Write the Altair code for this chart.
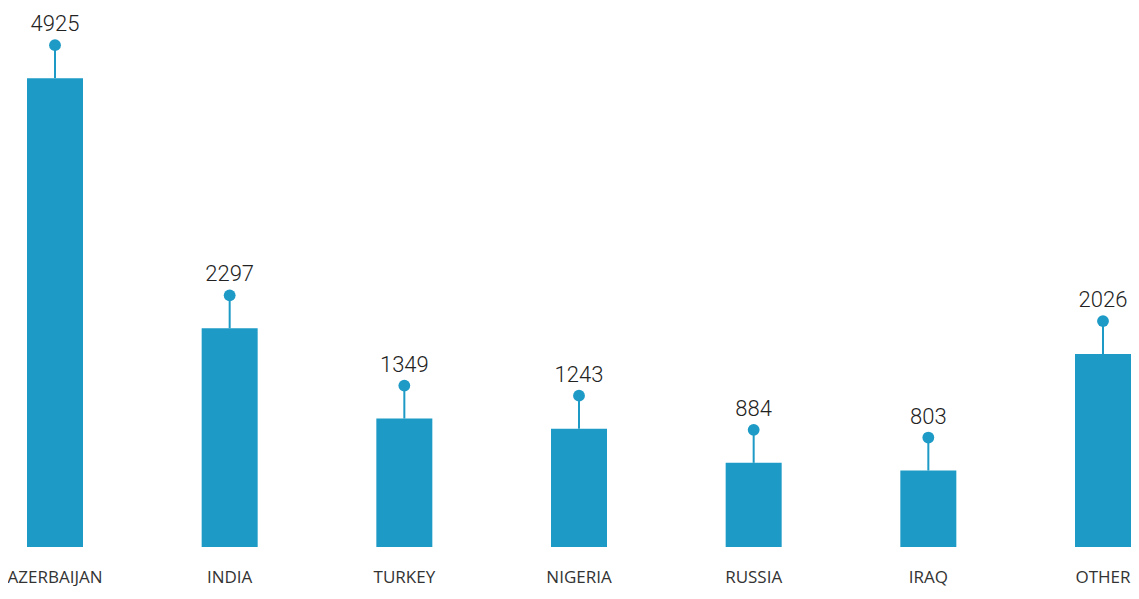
import altair as alt
import pandas as pd

countries = ["AZERBAIJAN", "INDIA", "TURKEY", "NIGERIA", "RUSSIA", "IRAQ", "OTHER"]
values = [4925, 2297, 1349, 1243, 884, 803, 2026]

df = pd.DataFrame({"country": countries, "value": values})

COLOR = "#1d9bc6"
STEM = 33

x = alt.X("country:N", sort=countries, title=None,
          scale=alt.Scale(paddingInner=0.6794, paddingOuter=0, align=0),
          axis=alt.Axis(domain=False, ticks=False, tickSize=0, grid=False,
                        labelAngle=0, labelFont="Open Sans", labelFontSize=17,
                        labelColor="#333333", labelPadding=35,
                        labelBaseline="alphabetic",
                        labelOverlap=False, labelBound=False, labelFlush=False))
y = alt.Y("value:Q", title=None, scale=alt.Scale(domain=[0, 5000], nice=False),
          axis=None)

base = alt.Chart(df)

bars = base.mark_bar(color=COLOR).encode(x=x, y=y)

stems = base.mark_rule(color=COLOR, strokeWidth=2, y2Offset=-STEM).encode(
    x=x, y=y, y2="value:Q")

dots = base.mark_point(filled=True, shape="circle", size=140, opacity=1,
                       color=COLOR, yOffset=-STEM).encode(x=x, y=y)

labels = base.mark_text(font="Roboto", fontSize=22, fontWeight=300,
                        color="#222222", baseline="alphabetic",
                        dy=-(STEM + 14)).encode(x=x, y=y, text="value:Q")

chart = alt.layer(bars, stems, dots, labels).properties(
    width=1104, height=476,
    padding={"left": 19, "top": 63, "right": 0, "bottom": 39},
    autosize=alt.AutoSizeParams(type="none"),
    background="white",
).configure_view(stroke=None)

chart.save("out.html", embed_options={"renderer": "svg", "actions": False})
